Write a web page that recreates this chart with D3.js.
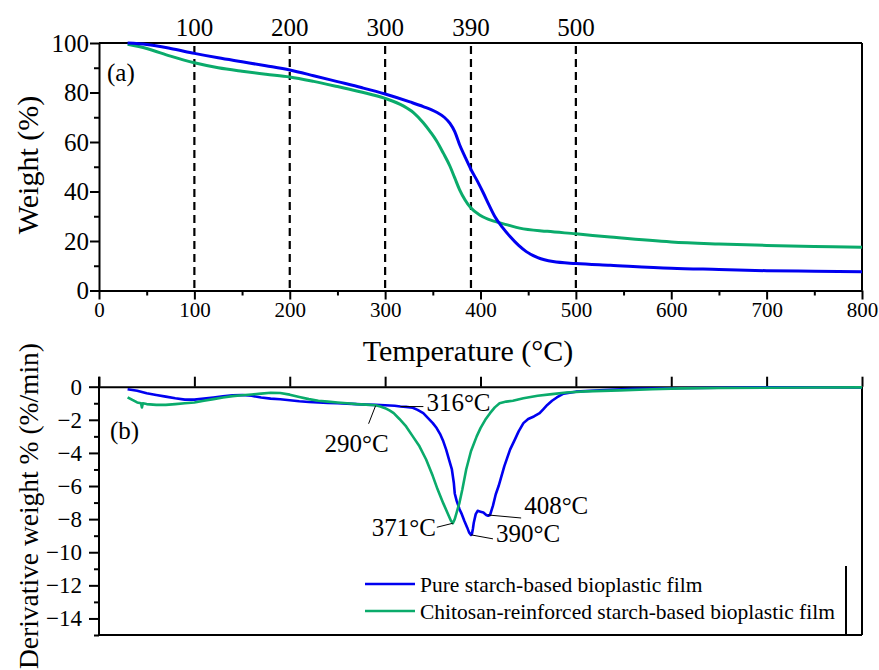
<!DOCTYPE html>
<html><head><meta charset="utf-8">
<script src="https://cdn.jsdelivr.net/npm/d3@7"></script>
<style>
html,body{margin:0;padding:0;background:#fff;}
svg{display:block;font-family:"Liberation Serif","Times New Roman",serif;}
svg text{font-family:"Liberation Serif","Times New Roman",serif;}
</style></head>
<body><svg id="c" width="879" height="670" font-family="Liberation Serif"></svg>
<script>
// ---------- DATA ----------
const tgaTempPure  = [30,50,75,100,125,150,175,200,225,250,275,300,326,340,354,362,368,373,378,384,390,397,403,409,415,423,431,440,448,460,476,500,536,600,650,700,750,800];
const tgaPure      = [100,99.4,97.8,95.8,94.0,92.4,90.8,89.1,86.8,84.4,82.0,79.4,76.2,74.3,72.0,70.0,67.5,64.2,59.0,53.8,48.9,44.0,39.4,34.5,29.9,25.5,21.8,18.2,15.7,13.3,11.7,10.9,10.2,9.0,8.5,8.0,7.8,7.6];
const tgaTempChito = [30,50,75,100,125,150,175,200,225,250,275,300,319,330,340,348,354,361,368,373,378,384,390,400,415,430,441,470,500,536,600,650,700,750,800];
const tgaChito     = [99.5,97.8,94.7,92.0,90.0,88.6,87.4,86.3,84.5,82.4,80.2,77.6,74.6,71.8,67.8,63.8,60.4,55.5,50.2,45.5,40.8,36.5,33.3,30.3,27.9,26.3,25.2,23.9,22.9,21.6,19.6,18.8,18.2,17.8,17.5];

const dtgTempPure = [30,40,50,60,70,80,90,100,110,120,130,140,150,160,170,180,190,200,210,220,230,240,250,260,270,280,290,300,310,316,322,329,334,340,345,350,354,358,361,364,367,370,372,373,375,378,380,383,386,388,390,391,392,393,395,397,400,403,406,408,410,413,416,419,422,425,428,431,436,440,445,450,456,462,466,470,475,480,487,500,530,560,600,650,700,750,800];
const dtgPure     = [-0.15,-0.25,-0.4,-0.5,-0.6,-0.7,-0.78,-0.78,-0.72,-0.65,-0.58,-0.52,-0.5,-0.55,-0.65,-0.72,-0.76,-0.82,-0.88,-0.92,-0.95,-0.98,-1.0,-1.02,-1.05,-1.08,-1.1,-1.12,-1.15,-1.2,-1.22,-1.27,-1.4,-1.6,-1.9,-2.2,-2.5,-2.9,-3.3,-3.8,-4.4,-5.0,-5.8,-6.45,-6.9,-7.4,-7.65,-8.1,-8.5,-8.8,-8.95,-8.9,-8.6,-8.2,-7.7,-7.5,-7.55,-7.6,-7.75,-7.8,-7.75,-7.2,-6.5,-6.0,-5.4,-4.8,-4.3,-3.8,-3.2,-2.7,-2.2,-1.95,-1.8,-1.6,-1.35,-1.1,-0.85,-0.65,-0.42,-0.3,-0.2,-0.12,-0.09,-0.06,-0.04,-0.03,-0.05];
const dtgTempChito = [30,35,40,44,45,46,50,60,70,80,90,100,110,120,130,140,150,160,170,180,190,200,210,220,230,240,250,260,270,280,290,295,300,305,309,315,322,329,336,343,350,355,361,366,369,371,373,375,378,381,385,390,396,400,405,410,415,420,427,434,445,460,475,490,510,546,580,610,650,700,750,800];
const dtgChito     = [-0.64,-0.8,-0.95,-1.0,-1.25,-1.0,-1.05,-1.1,-1.1,-1.05,-1.0,-0.95,-0.85,-0.75,-0.65,-0.57,-0.52,-0.47,-0.42,-0.37,-0.38,-0.48,-0.62,-0.75,-0.85,-0.9,-0.95,-1.0,-1.05,-1.08,-1.12,-1.2,-1.3,-1.45,-1.6,-1.95,-2.4,-3.0,-3.6,-4.4,-5.4,-6.2,-7.05,-7.7,-8.1,-8.25,-8.0,-7.6,-7.0,-6.2,-5.0,-3.9,-3.0,-2.5,-2.0,-1.6,-1.25,-1.0,-0.9,-0.85,-0.7,-0.55,-0.45,-0.35,-0.28,-0.22,-0.15,-0.1,-0.08,-0.06,-0.05,-0.04];

const xTicks = [0,100,200,300,400,500,600,700,800];
const xMinor = [50,150,250,350,450,550,650,750];
const weightTicks = [0,20,40,60,80,100];
const weightMinor = [10,30,50,70,90];
const dtgTicks = [0,-2,-4,-6,-8,-10,-12,-14];
const dtgMinor = [-1,-3,-5,-7,-9,-11,-13,-15];
const markTemps = [100,200,300,390,500];
const seriesNames = ["Pure starch-based bioplastic film","Chitosan-reinforced starch-based bioplastic film"];
const seriesColors = ["#0000f0","#0aab6b"];
const peakTemps = [316,290,371,390,408];
const peakVals  = [-1.2,-1.15,-8.25,-8.95,-7.75];
const peakText  = ["316°C","290°C","371°C","390°C","408°C"];

// ---------- LAYOUT ----------
const FONT = "Liberation Serif";
const svg = d3.select("#c");
const L = 99, R = 862;
const x = d3.scaleLinear().domain([0,800]).range([L,R]);
const yA = d3.scaleLinear().domain([0,100]).range([290.5,43]);
const yB = d3.scaleLinear().domain([-15,0]).range([635,386.7]);

const axisStyle = g => {
  g.attr("font-family",FONT);
  g.selectAll("path.domain").attr("stroke","#000").attr("stroke-width",2);
  g.selectAll(".tick line").attr("stroke","#000").attr("stroke-width",2);
  g.selectAll("text").attr("fill","#000").attr("font-family",FONT);
};

// ---- Panel (a) ----
svg.append("g").selectAll("line").data(markTemps).join("line")
  .attr("x1",d=>x(d)).attr("x2",d=>x(d)).attr("y1",yA(100)+3).attr("y2",yA(0))
  .attr("stroke","#000").attr("stroke-width",2.2).attr("stroke-dasharray","8,5");
svg.append("g").selectAll("text").data(markTemps).join("text")
  .attr("x",d=>x(d)).attr("y",36).attr("text-anchor","middle").attr("font-family",FONT)
  .attr("font-size",25).text(d=>d);

svg.append("line").attr("x1",L).attr("x2",R).attr("y1",yA(100)).attr("y2",yA(100)).attr("stroke","#000").attr("stroke-width",2);
svg.append("line").attr("x1",R).attr("x2",R).attr("y1",yA(100)).attr("y2",yA(0)).attr("stroke","#000").attr("stroke-width",2);

const gxA = svg.append("g").attr("transform",`translate(0,${yA(0)})`)
  .call(d3.axisBottom(x).tickValues(xTicks).tickSize(9).tickSizeOuter(0).tickPadding(3).tickFormat(d3.format("d")));
axisStyle(gxA);
gxA.selectAll("text").attr("font-size",21);
const gxAm = svg.append("g").attr("transform",`translate(0,${yA(0)})`)
  .call(d3.axisBottom(x).tickValues(xMinor).tickSize(5).tickFormat(""));
gxAm.select("path.domain").remove(); axisStyle(gxAm);

const gyA = svg.append("g").attr("transform",`translate(${L},0)`)
  .call(d3.axisLeft(yA).tickValues(weightTicks).tickSize(9).tickSizeOuter(0).tickPadding(1));
axisStyle(gyA);
gyA.selectAll("text").attr("font-size",25);
const gyAm = svg.append("g").attr("transform",`translate(${L},0)`)
  .call(d3.axisLeft(yA).tickValues(weightMinor).tickSize(5).tickFormat(""));
gyAm.select("path.domain").remove(); axisStyle(gyAm);

const lineA = (tx) => d3.line().x((d,i)=>x(tx[i])).y(d=>yA(d)).curve(d3.curveMonotoneX);
svg.append("path").datum(tgaChito).attr("d",lineA(tgaTempChito)).attr("fill","none").attr("stroke",seriesColors[1]).attr("stroke-width",3);
svg.append("path").datum(tgaPure).attr("d",lineA(tgaTempPure)).attr("fill","none").attr("stroke",seriesColors[0]).attr("stroke-width",3);

svg.append("text").attr("x",107).attr("y",81).attr("font-family",FONT).attr("font-size",25).text("(a)");
svg.append("text").attr("transform","translate(38,165) rotate(-90)").attr("text-anchor","middle").attr("font-family",FONT).attr("font-size",30).text("Weight (%)");
svg.append("text").attr("x",468).attr("y",361).attr("text-anchor","middle").attr("font-family",FONT).attr("font-size",30).text("Temperature (°C)");

// ---- Panel (b) ----
const gxBt = svg.append("g").attr("transform",`translate(0,${yB(0)})`)
  .call(d3.axisTop(x).tickValues(xTicks).tickSize(10).tickSizeOuter(0).tickFormat(""));
axisStyle(gxBt);
svg.append("line").attr("x1",L).attr("x2",R).attr("y1",yB(-15)).attr("y2",yB(-15)).attr("stroke","#000").attr("stroke-width",2);
svg.append("line").attr("x1",R).attr("x2",R).attr("y1",yB(0)).attr("y2",yB(-15)).attr("stroke","#000").attr("stroke-width",2);

const gyB = svg.append("g").attr("transform",`translate(${L},0)`)
  .call(d3.axisLeft(yB).tickValues(dtgTicks).tickSize(10).tickSizeOuter(0).tickPadding(7));
axisStyle(gyB);
gyB.selectAll("text").attr("font-size",23);
gyB.select("path.domain").attr("d",`M0,${yB(0)-10}V${yB(-15)}`);
const gyBm = svg.append("g").attr("transform",`translate(${L},0)`)
  .call(d3.axisLeft(yB).tickValues(dtgMinor).tickSize(5).tickFormat(""));
gyBm.select("path.domain").remove(); axisStyle(gyBm);

const lineB = (tx) => d3.line().x((d,i)=>x(tx[i])).y(d=>yB(d)).curve(d3.curveLinear);
svg.append("path").datum(dtgPure).attr("d",lineB(dtgTempPure)).attr("fill","none").attr("stroke",seriesColors[0]).attr("stroke-width",2.6).attr("stroke-linejoin","round");
svg.append("path").datum(dtgChito).attr("d",lineB(dtgTempChito)).attr("fill","none").attr("stroke",seriesColors[1]).attr("stroke-width",2.6).attr("stroke-linejoin","round");

svg.append("text").attr("x",110).attr("y",439).attr("font-family",FONT).attr("font-size",25).text("(b)");
svg.append("text").attr("transform","translate(38,506) rotate(-90)").attr("text-anchor","middle").attr("font-family",FONT).attr("font-size",27.5).text("Derivative weight % (%/min)");

// annotations: leader offset (dx,dy), text anchor, text x shift, text baseline shift
const annOff = [[23,0,"start",3,4],[-7,18,"end",20,28],[-16,4,"end",-1,9],[22,4,"start",3,3],[33,3,"start",3,-4]];
peakTemps.forEach((t,i)=>{
  const px = x(t), py = yB(peakVals[i]);
  const [dx,dy,anc,tx,ty] = annOff[i];
  svg.append("line").attr("x1",px).attr("y1",py).attr("x2",px+dx).attr("y2",py+dy).attr("stroke","#000").attr("stroke-width",1);
  svg.append("text").attr("x",px+dx+tx).attr("y",py+dy+ty).attr("font-family",FONT)
    .attr("text-anchor",anc).attr("font-size",25).text(peakText[i]);
});

// legend
const lg = svg.append("g");
seriesNames.forEach((n,i)=>{
  const yy = 584 + i*27;
  lg.append("line").attr("x1",365).attr("x2",415).attr("y1",yy).attr("y2",yy).attr("stroke",seriesColors[i]).attr("stroke-width",2.6);
  lg.append("text").attr("x",420).attr("y",yy+8).attr("font-family",FONT).attr("font-size",21.5).text(n);
});
lg.append("line").attr("x1",846).attr("x2",846).attr("y1",566).attr("y2",634).attr("stroke","#000").attr("stroke-width",2);
</script></body></html>
